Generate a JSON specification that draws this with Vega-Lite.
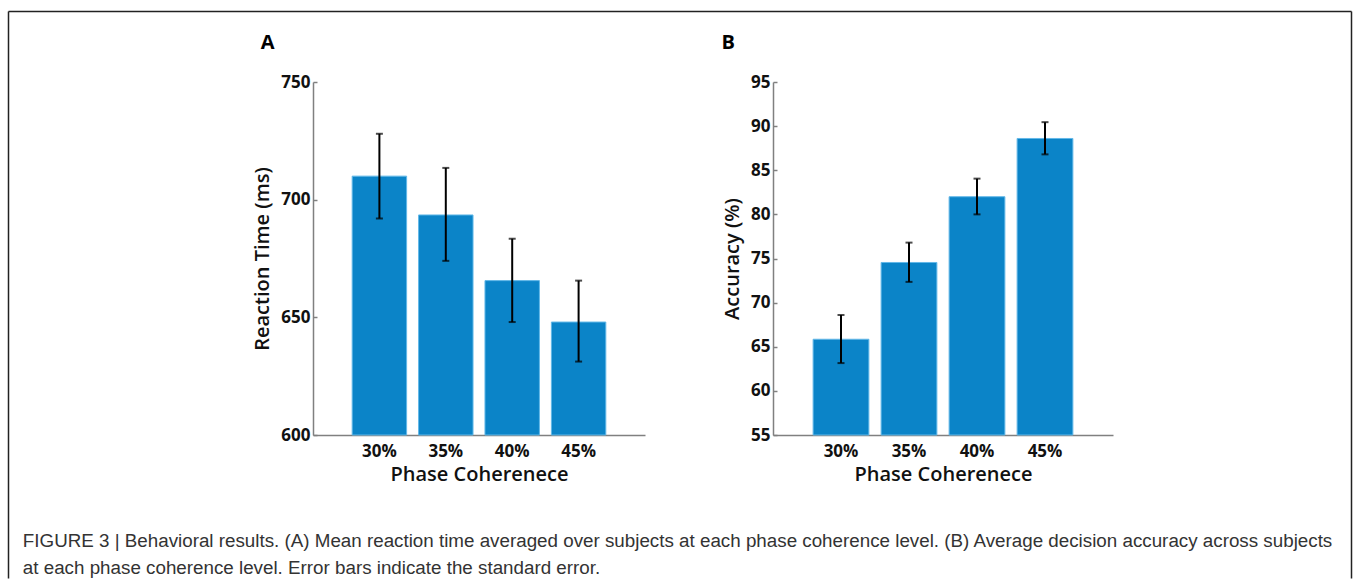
{
  "$schema": "https://vega.github.io/schema/vega-lite/v6.json",
  "background": "white",
  "padding": {"left": 5, "top": 11, "right": 3, "bottom": 0},
  "datasets": {
    "rt": [
      {"level": "30%", "mean": 710.0, "lo": 692.0, "hi": 728.0},
      {"level": "35%", "mean": 693.5, "lo": 674.0, "hi": 713.5},
      {"level": "40%", "mean": 665.6, "lo": 648.0, "hi": 683.4},
      {"level": "45%", "mean": 648.0, "lo": 631.2, "hi": 665.6}
    ],
    "acc": [
      {"level": "30%", "mean": 65.85, "lo": 63.15, "hi": 68.6},
      {"level": "35%", "mean": 74.55, "lo": 72.35, "hi": 76.8},
      {"level": "40%", "mean": 82.0, "lo": 80.0, "hi": 84.05},
      {"level": "45%", "mean": 88.6, "lo": 86.8, "hi": 90.45}
    ],
    "frame": [{}]
  },
  "bounds": "flush",
  "spacing": 0,
  "vconcat": [
    {
      "title": {
        "text": [
          "FIGURE 3 | Behavioral results. (A) Mean reaction time averaged over subjects at each phase coherence level. (B) Average decision accuracy across subjects",
          "at each phase coherence level. Error bars indicate the standard error."
        ],
        "orient": "bottom",
        "anchor": "start",
        "frame": "bounds",
        "dx": -230,
        "offset": 48,
        "font": "Liberation Sans",
        "fontSize": 18.8,
        "fontWeight": "normal",
        "color": "#333333",
        "lineHeight": 27
      },
      "spacing": 76,
      "hconcat": [
        {
          "width": 332,
          "height": 353,
          "title": {"text": "A", "anchor": "start", "frame": "bounds", "dx": 8, "offset": 20, "font": "Open Sans", "fontSize": 20, "fontWeight": "bold", "color": "#000000"},
          "data": {"name": "rt"},
          "encoding": {
            "x": {
              "field": "level", "type": "nominal", "sort": null,
              "scale": {"paddingInner": 0.18, "paddingOuter": 0.59},
              "axis": {"title": "Phase Coherenece", "labelAngle": 0, "ticks": false, "labelPadding": 8, "titlePadding": 5}
            }
          },
          "layer": [
            {
              "mark": {"type": "bar", "color": "#0b84c8", "stroke": "#62b8e8", "strokeWidth": 1},
              "encoding": {
                "y": {"field": "mean", "type": "quantitative", "title": "Reaction Time (ms)",
                      "scale": {"domain": [600, 750], "nice": false, "zero": false},
                      "axis": {"values": [600, 650, 700, 750]}},
                "y2": {"datum": 600}
              }
            },
            {
              "mark": {"type": "errorbar", "color": "#000000", "rule": {"strokeWidth": 2}, "ticks": {"size": 7, "thickness": 2}},
              "encoding": {
                "y": {"field": "lo", "type": "quantitative", "title": "Reaction Time (ms)"},
                "y2": {"field": "hi"}
              }
            }
          ]
        },
        {
          "width": 340,
          "height": 353,
          "title": {"text": "B", "anchor": "start", "frame": "bounds", "dx": -1, "offset": 20, "font": "Open Sans", "fontSize": 20, "fontWeight": "bold", "color": "#000000"},
          "data": {"name": "acc"},
          "encoding": {
            "x": {
              "field": "level", "type": "nominal", "sort": null,
              "scale": {"paddingInner": 0.18, "paddingOuter": 0.59},
              "axis": {"title": "Phase Coherenece", "labelAngle": 0, "ticks": false, "labelPadding": 8, "titlePadding": 5}
            }
          },
          "layer": [
            {
              "mark": {"type": "bar", "color": "#0b84c8", "stroke": "#62b8e8", "strokeWidth": 1},
              "encoding": {
                "y": {"field": "mean", "type": "quantitative", "title": "Accuracy (%)",
                      "scale": {"domain": [55, 95], "nice": false, "zero": false},
                      "axis": {"values": [55, 60, 65, 70, 75, 80, 85, 90, 95]}},
                "y2": {"datum": 55}
              }
            },
            {
              "mark": {"type": "errorbar", "color": "#000000", "rule": {"strokeWidth": 2}, "ticks": {"size": 7, "thickness": 2}},
              "encoding": {
                "y": {"field": "lo", "type": "quantitative", "title": "Accuracy (%)"},
                "y2": {"field": "hi"}
              }
            }
          ]
        }
      ]
    },
    {
      "width": 1038,
      "height": 10,
      "data": {"name": "frame"},
      "layer": [
        {
          "mark": {"type": "point", "opacity": 0},
          "encoding": {
            "x": {"datum": 0, "type": "quantitative", "scale": {"domain": [0, 1], "range": [-305, 1038]},
                  "axis": {"orient": "top", "offset": 71, "title": null, "labels": false, "ticks": false, "domainColor": "#222222", "domainWidth": 1.5}},
            "y": {"datum": 0, "type": "quantitative", "scale": {"domain": [0, 1], "range": [496, -71]},
                  "axis": {"orient": "left", "offset": 305, "title": null, "labels": false, "ticks": false, "domainColor": "#222222", "domainWidth": 1.5}}
          }
        },
        {
          "mark": {"type": "point", "opacity": 0},
          "encoding": {
            "y": {"datum": 0, "type": "quantitative", "scale": {"domain": [0, 1], "range": [496, -71]},
                  "axis": {"orient": "right", "title": null, "labels": false, "ticks": false, "domainColor": "#222222", "domainWidth": 1.5}}
          }
        }
      ],
      "resolve": {"scale": {"y": "independent"}, "axis": {"y": "independent"}}
    }
  ],
  "config": {
    "view": {"stroke": null},
    "axis": {
      "domainColor": "#808080",
      "domainWidth": 1.5,
      "tickColor": "#808080",
      "tickWidth": 1.5,
      "grid": false,
      "labelFont": "Open Sans",
      "labelFontWeight": "bold",
      "labelFontSize": 17,
      "labelColor": "#111111",
      "titleFont": "Open Sans",
      "titleFontWeight": 600,
      "titleFontSize": 20,
      "titleColor": "#111111"
    },
    "axisY": {"tickSize": -4, "labelPadding": 7, "titlePadding": 8}
  }
}
